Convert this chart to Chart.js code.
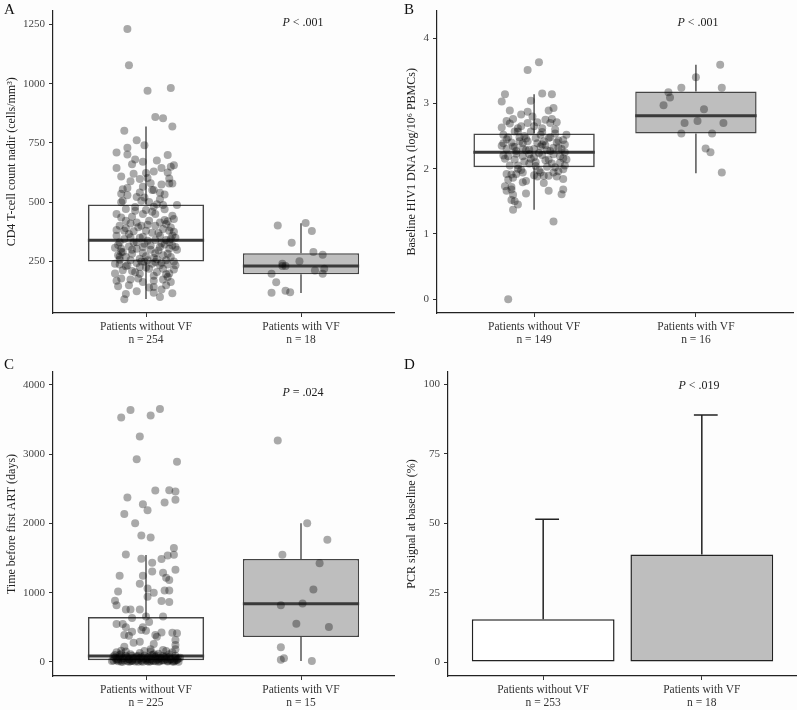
<!DOCTYPE html>
<html>
<head>
<meta charset="utf-8">
<script src="https://cdn.jsdelivr.net/npm/chart.js@4.4.0/dist/chart.umd.min.js"></script>
<style>
    body { margin: 0; background: #fdfdfd; width: 797px; height: 710px; position: relative; overflow: hidden; font-family: "Liberation Serif", serif; }
    canvas { position: absolute; }
    .tag { position: absolute; font-size: 15px; line-height: 15px; color: #111; }
    .pval { position: absolute; font-size: 12px; line-height: 14px; color: #222; transform: translateX(-50%); white-space: nowrap; }
</style>
</head>
<body>
<canvas id="chartA" width="398" height="350" style="left:0;top:0"></canvas>
<canvas id="chartB" width="397" height="350" style="left:400px;top:0"></canvas>
<canvas id="chartC" width="398" height="365" style="left:0;top:345px"></canvas>
<canvas id="chartD" width="397" height="365" style="left:400px;top:345px"></canvas>

<div class="tag" style="left:4px;top:2px">A</div>
<div class="tag" style="left:404px;top:2px">B</div>
<div class="tag" style="left:4px;top:357px">C</div>
<div class="tag" style="left:404px;top:357px">D</div>
<div class="pval" style="left:303px;top:15px"><i>P</i> &lt; .001</div>
<div class="pval" style="left:698px;top:15px"><i>P</i> &lt; .001</div>
<div class="pval" style="left:303px;top:385px"><i>P</i> = .024</div>
<div class="pval" style="left:699px;top:378px"><i>P</i> &lt; .019</div>

<script>
const groupNames = ['Patients without VF', 'Patients with VF'];

// Panel A: CD4 nadir
const aCounts = [254, 18];
const aLow = [92, 117];
const aQ1 = [250, 196];
const aMedian = [340, 231];
const aQ3 = [490, 285];
const aHigh = [819, 411];
const aTicks = [250, 500, 750, 1000, 1250];
const aJitter1 = [-0.12,-0.11,0.01,0.16,0.06,0.11,0.17,-0.14,-0.06,-0.01,-0.19,-0.12,-0.12,0.07,0.14,-0.07,-0.02,-0.19,-0.09,0.16,
    0.18,0.10,-0.16,0.00,0.05,0.14,-0.10,-0.04,0.01,0.10,0.15,0.17,-0.02,0.04,0.05,-0.16,-0.12,-0.06,0.12,0.20,
    -0.15,-0.03,0.02,0.07,0.11,-0.13,-0.07,-0.02,0.05,0.17,0.18,-0.16,-0.13,-0.06,0.02,0.09,0.13,-0.19,-0.13,-0.08,
    0.00,0.04,0.11,0.15,0.18,-0.19,-0.14,-0.10,-0.04,0.01,0.06,0.13,0.17,0.19,-0.20,-0.16,-0.11,-0.06,-0.02,0.03,
    0.08,0.15,0.19,-0.18,-0.13,-0.09,-0.04,0.00,0.05,0.11,0.16,-0.17,-0.12,-0.06,-0.01,0.04,0.09,0.14,0.19,-0.15,
    -0.09,-0.04,0.02,0.07,0.13,0.18,-0.19,-0.16,-0.10,-0.02,0.05,0.11,0.16,-0.18,0.05,0.10,-0.13,0.05,0.17,-0.14,
    -0.15,-0.04,0.09,-0.09,0.00,0.06,0.12,-0.17,-0.03,0.06,0.16,-0.11,0.09,-0.06,-0.01,0.10,0.15,-0.17,-0.15,-0.02,
    0.09,0.14,0.01,0.06,-0.10,-0.17,0.13,-0.20,-0.04,0.11,-0.05,0.14,
    -0.18,-0.08,0.03,0.12,0.20,-0.14,-0.05,0.08,0.17,-0.10,0.01,0.14,-0.19,-0.07,0.04,0.12,-0.16,-0.01,0.09,-0.12,
    0.03,0.15,-0.08,-0.17,-0.03,0.07,0.18,-0.13,0.00,0.10,-0.07,0.05,0.15,-0.20,-0.11,0.02,0.13,-0.06,0.09,-0.16,
    0.06,-0.02,0.16,-0.09];
const aValues1 = [1230,1078,970,982,859,854,819,801,761,740,710,730,701,676,699,680,671,644,660,650,
    656,644,609,623,630,625,589,598,602,575,579,579,565,552,552,536,529,522,533,488,
    506,506,501,492,488,471,464,450,481,443,429,436,422,415,422,415,408,383,390,378,
    380,371,387,380,376,359,345,352,350,338,341,341,318,350,308,304,313,304,311,300,
    297,304,311,276,269,283,262,272,266,276,269,238,234,244,249,241,234,238,234,213,
    210,199,220,206,196,216,169,178,174,164,169,174,164,146,143,132,113,118,116,91,
    555,541,513,439,467,450,425,401,401,401,394,366,359,331,325,327,331,331,290,286,
    311,283,255,248,255,258,255,241,227,220,178,185,
    320,330,318,322,300,380,395,370,360,410,405,420,450,480,460,470,500,520,540,560,
    580,600,620,270,250,260,250,230,225,245,205,190,200,200,150,140,150,125,100,290,
    285,355,345,300];
const aJitter2 = [-0.15,0.03,0.07,-0.06,0.08,0.14,-0.01,-0.12,-0.10,-0.12,0.09,0.15,0.14,-0.19,-0.16,-0.10,-0.07,-0.19];
const aValues2 = [402,412,379,329,290,279,251,241,231,231,212,220,199,198,163,127,120,118];

// Panel B: baseline HIV1 DNA
const bCounts = [149, 16];
const bLow = [1.37, 1.93];
const bQ1 = [2.02, 2.54];
const bMedian = [2.25, 2.81];
const bQ3 = [2.54, 3.18];
const bHigh = [3.14, 3.59];
const bTicks = [0, 1, 2, 3, 4];
const bJitter1 = [0.03,-0.04,-0.18,0.05,0.11,-0.20,-0.02,0.12,0.09,-0.15,-0.04,-0.08,-0.01,-0.13,-0.17,-0.15,0.02,0.07,0.11,0.14,
    0.10,-0.20,-0.08,-0.02,-0.10,0.05,0.13,0.20,-0.19,-0.16,-0.09,-0.05,0.09,0.15,0.19,-0.19,-0.14,-0.07,0.02,0.07,
    0.12,-0.17,-0.11,-0.05,-0.03,0.04,0.10,0.16,0.18,0.20,-0.18,-0.12,-0.07,0.00,0.05,0.12,-0.10,-0.03,0.08,0.13,
    0.19,0.18,-0.10,-0.17,-0.14,-0.11,-0.07,0.00,0.02,0.06,0.09,0.14,0.18,-0.05,-0.07,-0.18,-0.14,-0.17,-0.14,0.18,
    0.17,0.09,-0.05,-0.13,-0.14,-0.12,-0.10,-0.13,0.12,-0.16,-0.04,0.01,0.06,-0.13,0.15,-0.03,0.03,0.09,-0.06,0.01,
    -0.16,0.16,0.04,0.12,-0.09,0.00,0.05,-0.12,
    -0.19,-0.12,-0.06,0.00,0.07,0.14,0.19,-0.15,-0.08,0.03,0.11,0.17,-0.17,-0.10,0.04,0.13,-0.02,0.08,-0.13,0.06,
    -0.04,0.15,-0.20,0.01,0.10,-0.07,0.18,-0.11,0.05,-0.16];
const bValues1 = [3.63,3.51,3.14,3.15,3.14,3.03,3.04,2.93,2.89,2.89,2.87,2.83,2.80,2.76,2.73,2.69,2.71,2.75,2.76,2.71,
    2.70,2.63,2.65,2.57,2.57,2.56,2.54,2.52,2.52,2.48,2.48,2.46,2.47,2.43,2.37,2.39,2.40,2.39,2.39,2.36,
    2.32,2.30,2.27,2.28,2.29,2.34,2.27,2.19,2.16,2.14,2.15,2.14,2.19,2.18,2.21,2.22,2.05,2.08,2.03,2.02,
    2.05,1.99,2.00,1.92,1.91,1.92,1.94,1.90,1.88,1.89,1.89,1.88,1.84,1.81,1.79,1.73,1.72,1.66,1.68,1.68,
    1.61,1.66,1.62,1.60,1.52,1.50,1.45,1.37,1.19,0.00,2.42,2.47,2.42,2.34,2.32,2.22,2.24,2.14,2.11,2.04,
    2.19,2.09,1.94,1.94,2.42,2.65,2.62,2.57,
    2.20,2.33,2.50,2.30,2.13,2.40,2.25,2.05,1.98,1.97,2.08,2.30,2.45,2.62,2.52,2.60,2.15,2.28,1.86,1.78,
    2.70,1.96,2.35,2.10,2.48,2.31,2.44,2.23,2.37,1.83];
const bJitter2 = [0.15,0.00,-0.09,0.16,-0.17,-0.16,-0.20,0.05,-0.07,0.01,0.17,-0.09,0.10,0.06,0.09,0.16];
const bValues2 = [3.59,3.40,3.24,3.24,3.17,3.09,2.97,2.91,2.70,2.73,2.70,2.54,2.54,2.31,2.25,1.94];

// Panel C: time before first ART
const cCounts = [225, 15];
const cLow = [0, 14];
const cQ1 = [24, 360];
const cMedian = [86, 840];
const cQ3 = [648, 1484];
const cHigh = [1542, 2003];
const cTicks = [0, 1000, 2000, 3000, 4000];
const cJitter1 = [-0.16,-0.10,0.03,0.09,-0.04,-0.06,0.20,-0.12,0.06,0.15,0.19,0.19,0.12,-0.02,0.01,-0.14,-0.07,-0.03,0.03,-0.13,
    0.18,0.18,0.14,-0.03,0.10,0.04,0.19,0.04,0.11,-0.17,-0.02,0.13,0.15,-0.04,0.01,0.05,0.01,0.12,0.15,-0.18,
    -0.20,-0.19,0.10,0.15,-0.13,-0.10,-0.04,0.11,0.00,-0.09,0.02,-0.19,-0.15,-0.13,-0.02,-0.03,0.00,-0.09,0.17,0.20,
    0.10,-0.14,-0.11,0.06,0.07,0.19,-0.08,-0.04,0.05,0.19,-0.14,0.03,0.11,0.19,-0.16,
    -0.21,-0.19,-0.18,-0.17,-0.16,-0.15,-0.14,-0.13,-0.12,-0.11,-0.10,-0.09,-0.08,-0.07,-0.06,-0.05,-0.04,-0.03,-0.02,-0.01,
    0.00,0.01,0.02,0.03,0.04,0.05,0.06,0.07,0.08,0.09,0.10,0.11,0.12,0.13,0.14,0.15,0.16,0.17,0.18,0.19,
    0.20,0.21,-0.20,-0.13,-0.05,0.03,0.11,-0.16,0.06,-0.09,0.15,-0.01,0.19,-0.19,0.08,-0.11,0.13,-0.03,0.01,0.17,
    -0.22,-0.20,-0.18,-0.16,-0.14,-0.12,-0.10,-0.08,-0.06,-0.04,-0.02,0.00,0.02,0.04,0.06,0.08,0.10,0.12,0.14,0.16,
    0.18,0.20,0.22,-0.21,-0.17,-0.11,-0.05,0.01,0.07,0.13,0.19,-0.15,-0.09,-0.03,0.03,0.09,0.15,0.21,-0.19,0.05];
const cValues1 = [3525,3636,3554,3650,3252,2925,2887,2373,2474,2478,2459,2339,2301,2277,2190,2133,2003,1825,1796,1551,
    1643,1547,1537,1489,1484,1431,1330,1306,1287,1244,1244,1215,1182,1129,1061,999,941,1033,1033,1018,
    884,817,879,865,759,759,759,658,658,634,576,548,547,500,500,461,451,437,423,413,
    427,389,379,389,365,317,279,293,259,245,221,183,173,183,163,
    20,45,10,70,30,5,55,90,15,40,110,25,60,8,80,35,130,12,50,95,
    20,65,5,40,100,15,75,30,120,10,55,85,25,45,6,70,35,140,18,60,
    28,50,100,150,5,150,20,120,10,90,110,160,90,140,40,5,160,70,35,8,
    15,60,35,5,25,70,10,45,20,55,5,40,75,25,50,5,30,65,15,45,
    5,35,60,80,100,40,90,10,95,80,20,50,15,30,10,60,28,5,25,110];
const cJitter2 = [-0.15,0.04,0.17,-0.12,0.12,0.08,0.01,-0.13,-0.03,0.18,-0.13,-0.11,-0.13,0.07];
const cValues2 = [3194,2003,1763,1547,1426,1047,845,817,552,504,211,53,34,14];

// Panel D: PCR signal at baseline
const dCounts = [253, 18];
const dValues = [15.4, 38.8];
const dUpper = [51.5, 89.0];
const dTicks = [0, 25, 50, 75, 100];

const fontFamily = '"Liberation Serif", serif';
const boxFills = ['rgba(255,255,255,0)', '#bebebe'];

function pointsFrom(jitter, values, group) {
    return values.map((v, i) => ({ x: group + jitter[i], y: v }));
}

function boxDatasets(low, q1, med, q3, high) {
    const whisker = [];
    const median = [];
    [1, 2].forEach((g, i) => {
        whisker.push({ x: g, y: q3[i] }, { x: g, y: high[i] }, { x: g, y: null });
        whisker.push({ x: g, y: low[i] }, { x: g, y: q1[i] }, { x: g, y: null });
        median.push({ x: g - 0.375, y: med[i] }, { x: g + 0.375, y: med[i] }, { x: g, y: null });
    });
    return [
        {
            type: 'line', data: median, borderColor: '#3a3a3a', borderWidth: 3,
            pointRadius: 0, spanGaps: false, order: 1
        },
        {
            type: 'bar',
            data: [{ x: 1, y: [q1[0], q3[0]] }, { x: 2, y: [q1[1], q3[1]] }],
            backgroundColor: boxFills, borderColor: '#444', borderWidth: 1.5,
            borderSkipped: false, barPercentage: 0.75, categoryPercentage: 1, order: 2
        },
        {
            type: 'line', data: whisker, borderColor: '#555', borderWidth: 1.5,
            pointRadius: 0, spanGaps: false, order: 3
        }
    ];
}

function pointDataset(data) {
    return {
        type: 'scatter', data: data, backgroundColor: 'rgba(0,0,0,0.33)',
        borderWidth: 0, pointRadius: 4, order: 0
    };
}

function makeScales(counts, yMin, yMax, yTicks, yTitle, yWidth, xHeight) {
    return {
        x: {
            type: 'linear', min: 0.4, max: 2.6, offset: false,
            afterBuildTicks: s => { s.ticks = [{ value: 1 }, { value: 2 }]; },
            afterFit: s => { s.height = xHeight; },
            ticks: {
                callback: v => [groupNames[v - 1], 'n = ' + counts[v - 1]],
                color: '#333', font: { family: fontFamily, size: 11.5, lineHeight: 1.15 },
                padding: 3, maxRotation: 0, autoSkip: false
            },
            grid: { display: true, offset: false, drawOnChartArea: false, drawTicks: true, tickLength: 4, color: '#333' },
            border: { display: true, color: '#222', width: 1.2 }
        },
        y: {
            min: yMin, max: yMax,
            afterBuildTicks: s => { s.ticks = yTicks.map(v => ({ value: v })); },
            afterFit: s => { s.width = yWidth; },
            ticks: {
                callback: v => String(v),
                color: '#444', font: { family: fontFamily, size: 11 }, padding: 4
            },
            grid: { display: true, drawOnChartArea: false, drawTicks: true, tickLength: 4, color: '#333' },
            border: { display: true, color: '#222', width: 1.2 },
            title: {
                display: true, text: yTitle, color: '#222',
                font: { family: fontFamily, size: 12 }, padding: { top: 5, bottom: 0 }
            }
        }
    };
}

const commonOptions = {
    responsive: false,
    animation: false,
    plugins: { legend: { display: false }, tooltip: { enabled: false } }
};

new Chart(document.getElementById('chartA'), {
    data: {
        datasets: [
            pointDataset(pointsFrom(aJitter1, aValues1, 1).concat(pointsFrom(aJitter2, aValues2, 2))),
            ...boxDatasets(aLow, aQ1, aMedian, aQ3, aHigh)
        ]
    },
    options: {
        ...commonOptions,
        layout: { padding: { top: 8, right: 1, bottom: 0, left: 0 } },
        scales: makeScales(aCounts, 33, 1308, aTicks, 'CD4 T-cell count nadir (cells/mm³)', 53, 37)
    }
});

new Chart(document.getElementById('chartB'), {
    data: {
        datasets: [
            pointDataset(pointsFrom(bJitter1, bValues1, 1).concat(pointsFrom(bJitter2, bValues2, 2))),
            ...boxDatasets(bLow, bQ1, bMedian, bQ3, bHigh)
        ]
    },
    options: {
        ...commonOptions,
        layout: { padding: { top: 8, right: 0, bottom: 0, left: 0 } },
        scales: makeScales(bCounts, -0.21, 4.42, bTicks, 'Baseline HIV1 DNA (log/10⁶ PBMCs)', 37, 37)
    }
});

new Chart(document.getElementById('chartC'), {
    data: {
        datasets: [
            pointDataset(pointsFrom(cJitter1, cValues1, 1).concat(pointsFrom(cJitter2, cValues2, 2))),
            ...boxDatasets(cLow, cQ1, cMedian, cQ3, cHigh)
        ]
    },
    options: {
        ...commonOptions,
        layout: { padding: { top: 27, right: 1, bottom: 0, left: 0 } },
        scales: makeScales(cCounts, -202, 4183, cTicks, 'Time before first ART (days)', 53, 34)
    }
});

// error bars for panel D: stem from bar top plus a short cap
const dStems = [];
[1, 2].forEach((g, i) => {
    dStems.push({ x: g, y: dValues[i] }, { x: g, y: dUpper[i] }, { x: g, y: null });
    dStems.push({ x: g - 0.05, y: dUpper[i] }, { x: g + 0.1, y: dUpper[i] }, { x: g, y: null });
});

new Chart(document.getElementById('chartD'), {
    data: {
        datasets: [
            {
                type: 'line', data: dStems, borderColor: '#222', borderWidth: 1.5,
                pointRadius: 0, spanGaps: false, order: 1
            },
            {
                type: 'bar',
                data: [{ x: 1, y: dValues[0] }, { x: 2, y: dValues[1] }],
                backgroundColor: ['#ffffff', '#bebebe'], borderColor: '#222', borderWidth: 1.5,
                borderSkipped: false, barPercentage: 0.9, categoryPercentage: 1, order: 2
            }
        ]
    },
    options: {
        ...commonOptions,
        layout: { padding: { top: 27, right: 0, bottom: 0, left: 0 } },
        scales: makeScales(dCounts, -5, 104.5, dTicks, 'PCR signal at baseline (%)', 48, 34)
    }
});
</script>
</body>
</html>
